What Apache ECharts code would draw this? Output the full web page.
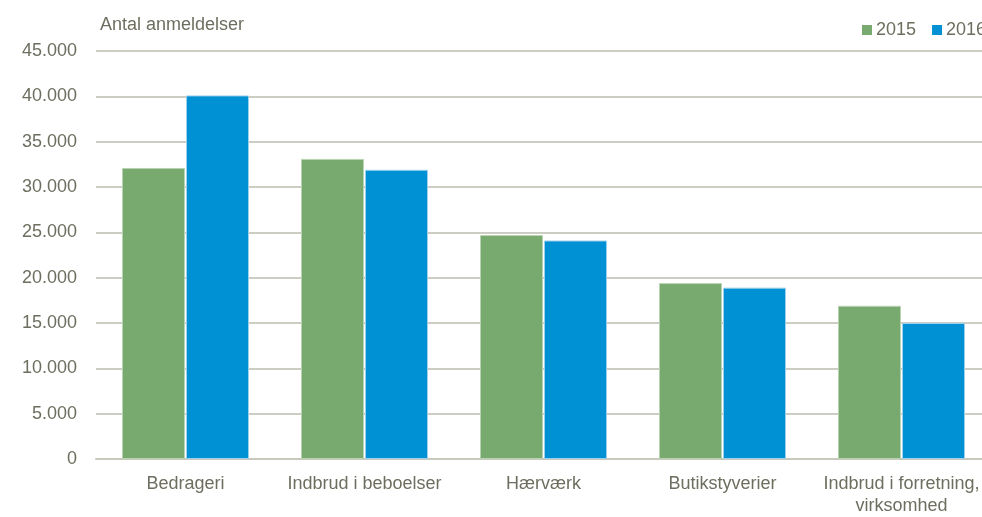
<!DOCTYPE html>
<html>
<head>
<meta charset="utf-8">
<script src="https://cdn.jsdelivr.net/npm/echarts@6/dist/echarts.min.js"></script>
<style>
html,body{margin:0;padding:0;background:#fff;overflow:hidden;}
#chart{width:982px;height:517px;}
</style>
</head>
<body>
<div id="chart"></div>
<script>
var categories = ['Bedrageri', 'Indbrud i beboelser', 'Hærværk', 'Butikstyverier', 'Indbrud i forretning,\nvirksomhed'];
var seriesNames = ['2015', '2016'];
var values2015 = [32100, 33100, 24700, 19400, 16900];
var values2016 = [40100, 31900, 24100, 18900, 15000];
var yTitle = 'Antal anmeldelser';

var FONT = "'Liberation Sans', Arial, sans-serif";
var FS = 18;
var TEXT = '#6E6E60';
var chart = echarts.init(document.getElementById('chart'), null, {renderer: 'canvas'});
chart.setOption({
  animation: false,
  backgroundColor: '#ffffff',
  textStyle: {fontFamily: FONT, color: TEXT},
  title: {
    text: yTitle, left: 100, top: 16, padding: 0,
    textStyle: {fontFamily: FONT, fontSize: FS, fontWeight: 'normal', color: TEXT}
  },
  legend: {
    data: seriesNames, left: 862, top: 21, padding: 0, width: 300, orient: 'horizontal',
    icon: 'rect', itemWidth: 10, itemHeight: 10, itemGap: 16,
    itemStyle: {borderWidth: 0},
    textStyle: {fontFamily: FONT, fontSize: FS, color: TEXT, padding: [0, 0, 0, -1]}
  },
  grid: {left: 96, top: 51, width: 895, height: 408, outerBoundsMode: 'none'},
  xAxis: {
    type: 'category', data: categories,
    axisLine: {lineStyle: {color: '#C8C8BC', width: 2}},
    axisTick: {show: false},
    axisLabel: {fontFamily: FONT, fontSize: FS, color: TEXT, margin: 14, lineHeight: 22, interval: 0}
  },
  yAxis: {
    type: 'value', min: 0, max: 45000, interval: 5000,
    axisLine: {show: false}, axisTick: {show: false},
    splitLine: {lineStyle: {color: '#BDBDAF', width: 1.5}},
    axisLabel: {
      fontFamily: FONT, fontSize: FS, color: TEXT, margin: 19,
      formatter: function (v) { return v.toString().replace(/\B(?=(\d{3})+(?!\d))/g, '.'); }
    }
  },
  series: [
    {name: seriesNames[0], type: 'bar', data: values2015, barWidth: 63, barGap: '1.6%',
     itemStyle: {color: '#78A96F', borderColor: '#B9D3B3', borderWidth: 1}},
    {name: seriesNames[1], type: 'bar', data: values2016, barWidth: 63,
     itemStyle: {color: '#0091D5', borderColor: '#9ED0EC', borderWidth: 1}}
  ]
});
</script>
</body>
</html>
